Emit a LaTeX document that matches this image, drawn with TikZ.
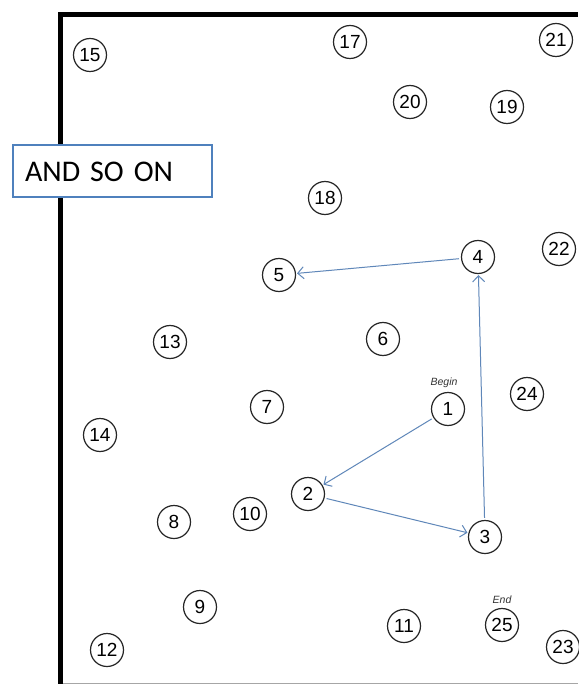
\documentclass[tikz,border=0pt]{standalone}
\usepackage{fontspec}
\setmainfont{Liberation Sans}
\newfontfamily\boxfont{Carlito}
\usetikzlibrary{arrows.meta}
\definecolor{arrowblue}{RGB}{95,135,185}
\definecolor{boxblue}{RGB}{79,129,189}
\begin{document}
\begin{tikzpicture}[x=1pt,y=-1pt,
  num/.style={circle,draw=black!85,line width=1.2pt,minimum size=33pt,inner sep=0pt,font=\fontsize{19}{19}\selectfont},
  tag/.style={font=\itshape\fontsize{10.5}{10.5}\selectfont,text=black!80},
  link/.style={draw=arrowblue,line width=1pt,-{Straight Barb[length=6pt,width=12pt]},shorten <=2pt,shorten >=1pt},
  note/.style={draw=boxblue,line width=2pt,fill=white,minimum width=199pt,minimum height=52pt,inner xsep=12pt,text width=175pt,align=left,font=\boxfont\fontsize{30}{30}\selectfont}]
\useasboundingbox (0,0) rectangle (578,684);
\fill[white] (0,0) rectangle (578,684);
\draw[line width=5pt,line join=miter] (60.5,684) -- (60.5,15) -- (578,15);
\draw[black!35,line width=0.8pt] (63,683) -- (578,683);
\node[num] (n15) at (90,55) {15};
\node[num] (n17) at (350,42) {17};
\node[num] (n21) at (556,40) {21};
\node[num] (n20) at (410,102) {20};
\node[num] (n19) at (507,107) {19};
\node[num] (n18) at (325,198) {18};
\node[num] (n4) at (478,257) {4};
\node[num] (n22) at (559,249) {22};
\node[num] (n5) at (279,275) {5};
\node[num] (n13) at (170,342) {13};
\node[num] (n6) at (383,339) {6};
\node[num] (n1) at (448,409) {1};
\node[tag] (begin) at (444,383) {Begin};
\node[num] (n24) at (527,394) {24};
\node[num] (n7) at (267,407) {7};
\node[num] (n14) at (100,435) {14};
\node[num] (n2) at (308,494) {2};
\node[num] (n10) at (250,514) {10};
\node[num] (n8) at (174,522) {8};
\node[num] (n3) at (485,537) {3};
\node[num] (n9) at (200,607) {9};
\node[tag] (end) at (502,600) {End};
\node[num] (n11) at (404,626) {11};
\node[num] (n25) at (502,625) {25};
\node[num] (n12) at (107,650) {12};
\node[num] (n23) at (563,647) {23};
\draw[link] (n1) -- (n2);
\draw[link] (n2) -- (n3);
\draw[link] (n3) -- (n4);
\draw[link] (n4) -- (n5);
\node[note] (more) at (112.5,171.5) {AND SO ON};
\end{tikzpicture}
\end{document}
